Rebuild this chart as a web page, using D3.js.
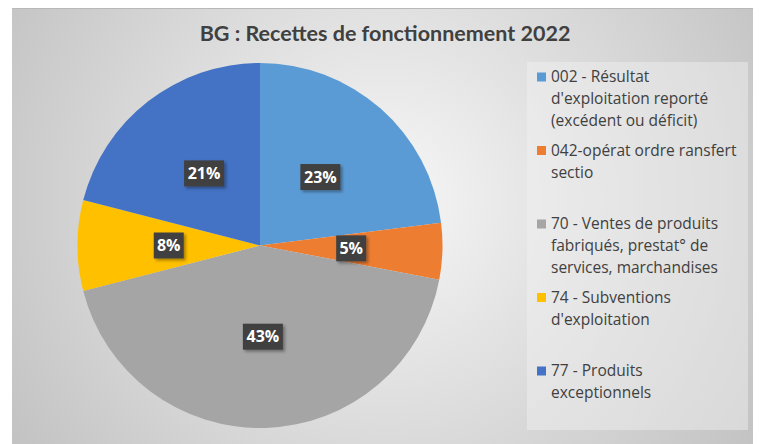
<!DOCTYPE html>
<html>
<head>
<meta charset="utf-8">
<script src="https://cdn.jsdelivr.net/npm/d3@7"></script>
<style>
  body { margin: 0; background: #fff; }
  svg { display: block; }
</style>
</head>
<body>
<svg width="759" height="444"></svg>
<script>
// data
var categories = [
    "002 - Résultat d'exploitation reporté (excédent ou déficit)",
    "042-opérat ordre ransfert sectio",
    "70 - Ventes de produits fabriqués, prestat° de services, marchandises",
    "74 - Subventions d'exploitation",
    "77 - Produits exceptionnels"
];
var legendLines = [
    ["002 - Résultat", "d'exploitation reporté", "(excédent ou déficit)"],
    ["042-opérat ordre ransfert", "sectio"],
    ["70 - Ventes de produits", "fabriqués, prestat° de", "services, marchandises"],
    ["74 - Subventions", "d'exploitation"],
    ["77 - Produits", "exceptionnels"]
];
var values = [23, 5, 43, 8, 21];
var colors = ["#5b9bd5", "#ed7d31", "#a5a5a5", "#ffc000", "#4472c4"];

var svg = d3.select('svg');
var font = "'Open Sans', sans-serif";

var defs = svg.append("defs");
var grad = defs.append("radialGradient")
    .attr("id", "bg")
    .attr("gradientUnits", "userSpaceOnUse")
    .attr("cx", 385).attr("cy", 200).attr("r", 440);
grad.append("stop").attr("offset", "0%").attr("stop-color", "#f7f7f7");
grad.append("stop").attr("offset", "100%").attr("stop-color", "#c3c3c3");

var shadow = defs.append("filter").attr("id", "shadow")
    .attr("x", "-30%").attr("y", "-30%").attr("width", "160%").attr("height", "160%");
shadow.append("feDropShadow")
    .attr("dx", 2).attr("dy", 2).attr("stdDeviation", 1.5)
    .attr("flood-color", "#000").attr("flood-opacity", 0.35);

// chart area
svg.append("rect")
    .attr("x", 12).attr("y", 8)
    .attr("width", 741).attr("height", 436)
    .attr("fill", "url(#bg)");
svg.append("line")
    .attr("x1", 12).attr("x2", 753).attr("y1", 8.5).attr("y2", 8.5)
    .attr("stroke", "#b8b8b8");

svg.append("text")
    .attr("x", 385).attr("y", 41)
    .attr("text-anchor", "middle")
    .attr("font-family", "Lato, sans-serif")
    .attr("font-weight", "bold")
    .attr("font-size", 21.5)
    .attr("fill", "#404040")
    .text("BG : Recettes de fonctionnement 2022");

// pie
var cx = 260, cy = 245.5, radius = 182.5;

var pie = d3.pie().sort(null).value(d => d);
var arcs = pie(values);
var arc = d3.arc().innerRadius(0).outerRadius(radius);

var g = svg.append("g").attr("transform", `translate(${cx}, ${cy})`);

g.selectAll("path.slice")
    .data(arcs)
    .enter()
    .append("path")
    .attr("class", "slice")
    .attr("d", arc)
    .attr("fill", (d, i) => colors[i]);

var labels = g.selectAll("g.label")
    .data(arcs)
    .enter()
    .append("g")
    .attr("class", "label")
    .attr("transform", d => `translate(${arc.centroid(d)})`);

labels.append("rect")
    .attr("x", d => d.data >= 10 ? -20 : -15)
    .attr("y", -13)
    .attr("width", d => d.data >= 10 ? 40 : 30)
    .attr("height", 26)
    .attr("fill", "#404040")
    .attr("filter", "url(#shadow)");

labels.append("text")
    .attr("text-anchor", "middle")
    .attr("dy", "0.36em")
    .attr("font-family", font)
    .attr("font-weight", "bold")
    .attr("font-size", 16)
    .attr("fill", "#fff")
    .text(d => d.data + "%");

// legend
svg.append("rect")
    .attr("x", 527).attr("y", 62)
    .attr("width", 221).attr("height", 368)
    .attr("fill", "#f2f2f2")
    .attr("fill-opacity", 0.45);

var legend = svg.selectAll("g.legend")
    .data(legendLines)
    .enter()
    .append("g")
    .attr("class", "legend")
    .attr("transform", (d, i) => `translate(537, ${77 + i * 73.5})`);

legend.append("rect")
    .attr("x", 0).attr("y", -4.5)
    .attr("width", 9).attr("height", 9)
    .attr("fill", (d, i) => colors[i]);

legend.append("text")
    .attr("font-family", font)
    .attr("font-size", 15.5)
    .attr("fill", "#404040")
    .selectAll("tspan")
    .data(d => d)
    .enter()
    .append("tspan")
    .attr("x", 14)
    .attr("y", (d, j) => j * 22)
    .attr("dy", "0.35em")
    .text(d => d);
</script>
</body>
</html>
